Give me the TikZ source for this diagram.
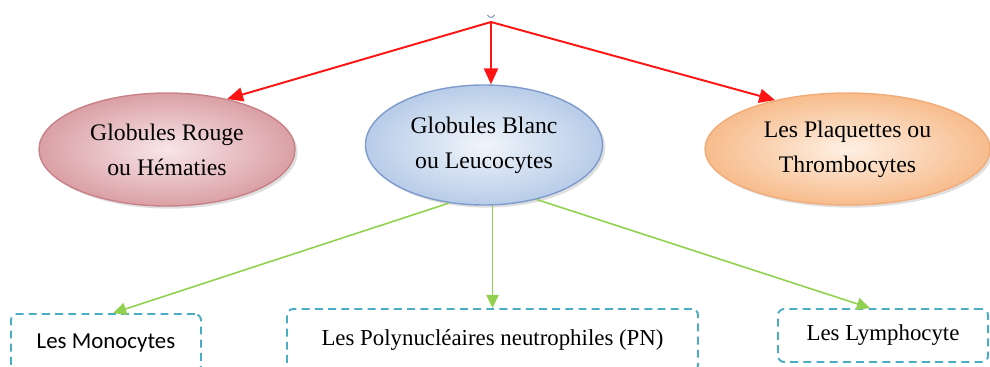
\documentclass[tikz,border=0pt]{standalone}
\usepackage{fontspec}
\setmainfont{Liberation Serif}
\newfontfamily\calibrifont{Carlito}
\usetikzlibrary{shapes.geometric,arrows.meta,shadows}

\definecolor{rougeedge}{RGB}{218,160,165}
\definecolor{rougein}{RGB}{248,230,232}
\definecolor{rougeline}{RGB}{200,130,135}
\definecolor{blancedge}{RGB}{184,204,232}
\definecolor{blancin}{RGB}{240,245,251}
\definecolor{blancline}{RGB}{125,155,205}
\definecolor{plaqedge}{RGB}{247,188,140}
\definecolor{plaqin}{RGB}{254,240,228}
\definecolor{plaqline}{RGB}{242,172,122}
\definecolor{fleche}{RGB}{255,20,20}
\definecolor{vert}{RGB}{146,208,80}
\definecolor{tiret}{RGB}{75,172,198}
\definecolor{marque}{RGB}{130,155,180}

\tikzset{
  cellule/.style={ellipse, align=center, font=\fontsize{13.5}{20}\selectfont,
    line width=0.8pt, shading=radial,
    drop shadow={shadow xshift=1.5pt, shadow yshift=-1.5pt, opacity=0.25}},
  famille/.style={draw=tiret, dashed, dash pattern=on 4.5pt off 3pt, line width=1.1pt,
    rounded corners=3.5pt, align=center, font=\fontsize{13}{16}\selectfont},
  rouge/.style={-{Triangle[length=9pt,width=8pt]}, fleche, line width=1.1pt},
  verte/.style={-{Triangle[length=7.5pt,width=7pt]}, vert, line width=0.9pt}
}

\begin{document}
\begin{tikzpicture}

\useasboundingbox (0,0) rectangle (19.8,7.32);

\coordinate (sang) at (9.82,6.88);
\draw[marque, line width=0.6pt] (9.75,7.02) arc[start angle=200, end angle=340, radius=0.075];

\node[cellule, draw=rougeline, inner color=rougein, outer color=rougeedge,
  minimum width=5.12cm, minimum height=2.26cm] (hematies) at (3.34,4.33) {Globules Rouge\\ou Hématies};
\node[cellule, draw=blancline, inner color=blancin, outer color=blancedge,
  minimum width=4.74cm, minimum height=2.4cm] (leuco) at (9.68,4.42) {Globules Blanc\\ou Leucocytes};
\node[cellule, draw=plaqline, inner color=plaqin, outer color=plaqedge,
  minimum width=5.7cm, minimum height=2.24cm] (thrombo) at (16.95,4.34) {Les Plaquettes ou\\Thrombocytes};

\node[famille, minimum width=3.8cm, minimum height=1.16cm, font=\calibrifont\fontsize{13}{16}\selectfont] (mono) at (2.12,0.46) {Les Monocytes};
\node[famille, minimum width=8.22cm, minimum height=1.24cm] (poly) at (9.85,0.52) {Les Polynucléaires neutrophiles (PN)};
\node[famille, minimum width=4.2cm, minimum height=1.06cm] (lympho) at (17.66,0.61) {Les Lymphocyte};

\draw[rouge] (sang) -- (hematies.40);
\draw[rouge] (sang) -- (sang |- leuco.north);
\draw[rouge] (sang) -- (thrombo.146);

\draw[verte] (leuco.239) -- ([xshift=0.14cm]mono.north);
\draw[verte] (poly.north |- leuco.south) -- (poly.north);
\draw[verte] (leuco.-46) -- ([xshift=-0.26cm]lympho.north);

\end{tikzpicture}
\end{document}
